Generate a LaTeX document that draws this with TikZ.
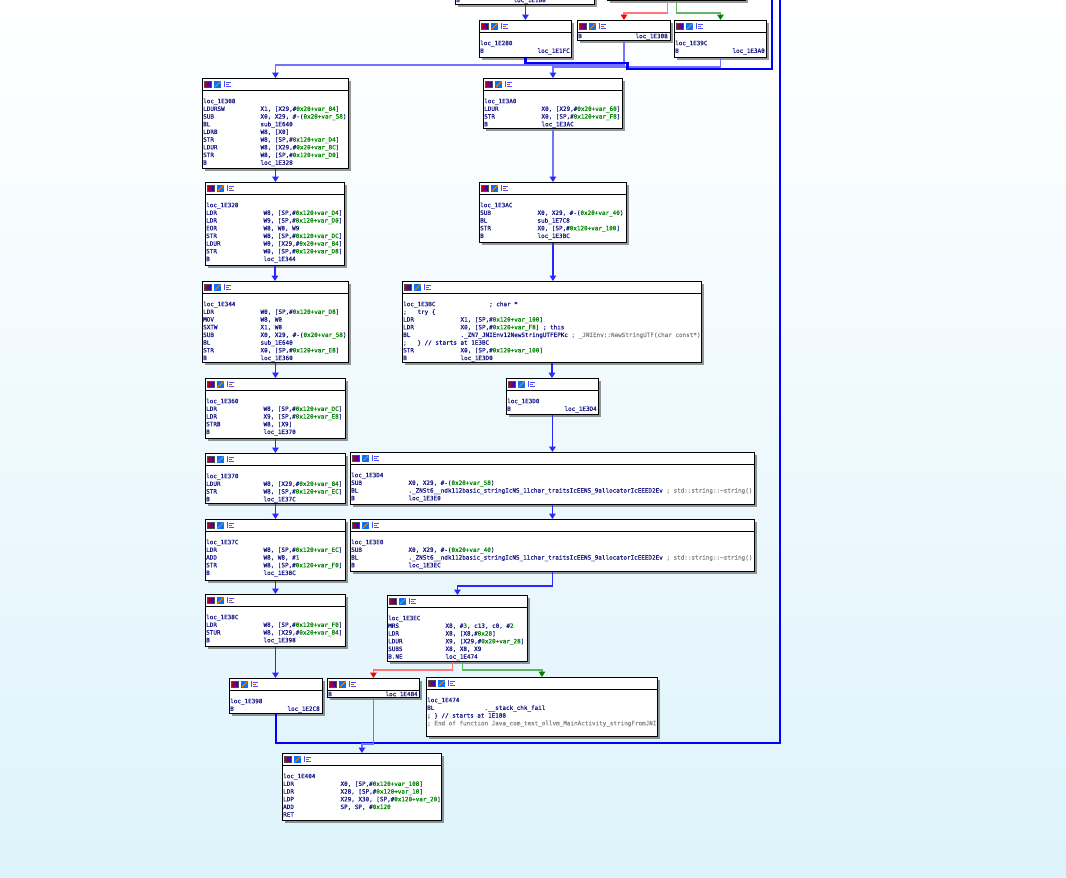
\documentclass[tikz,border=0pt]{standalone}
\usepackage{fontspec}
\setmonofont[FakeBold=0.5]{DejaVu Sans Mono}
\usetikzlibrary{arrows.meta,shadows}

\definecolor{idanavy}{RGB}{25,25,135}
\definecolor{idagreen}{RGB}{0,135,0}
\definecolor{idagray}{RGB}{135,135,135}
\definecolor{idabg}{RGB}{222,243,251}
\definecolor{flowblue}{RGB}{40,40,255}
\definecolor{paleblue}{RGB}{115,115,255}
\definecolor{palered}{RGB}{255,120,120}
\definecolor{palegreen}{RGB}{100,180,100}
\definecolor{darkgreen}{RGB}{0,130,0}

\newcommand\op[2]{\makebox[57.3pt][l]{#1}#2}
\newcommand\gn[1]{\textcolor{idagreen}{#1}}
\newcommand\cm[1]{\textcolor{idagray}{#1}}
\newcommand\idaicons[1]{%
  \begin{scope}[shift={(#1.north west)}]
    \shade[left color=red!80!black,middle color=yellow!70!green,right color=blue!80!violet] (2,3) rectangle (9,9.5);
    \draw[black!70,line width=.3pt] (2,3) rectangle (9,9.5);
    \fill[blue!55!cyan] (12,3) rectangle (19,9.5);
    \draw[orange,line width=1pt] (13,9) -- (18.5,3.5);
    \fill[white] (22,3) rectangle (29,9.5);
    \draw[blue!70,line width=.5pt] (22.3,3.3) -- (22.3,9.2) (23.5,4.5) -- (28.5,4.5) (23.5,6.3) -- (27,6.3) (23.5,8.1) -- (28.5,8.1);
    \fill[orange] (25,5.6) rectangle (26.2,7);
  \end{scope}}

\tikzset{
  blk/.style={rectangle,draw=black,line width=.9pt,fill=white,anchor=north west,inner sep=0pt,
    drop shadow={shadow xshift=2.5pt,shadow yshift=-2.5pt,opacity=.4,fill=black}},
  asm/.style={anchor=north west,inner sep=0pt,align=left,text=idanavy,
    font=\ttfamily\fontsize{5.95}{7.7}\selectfont},
  flow/.style={draw=flowblue,line width=1.6pt,-{Triangle[width=6.5pt,length=5.5pt,color=flowblue]}},
  paleflow/.style={draw=paleblue,line width=1.6pt,-{Triangle[width=6.5pt,length=5.5pt,color=flowblue]}},
  backflow/.style={draw=blue,line width=2.3pt},
  noflow/.style={draw=palered,line width=1.6pt,-{Triangle[width=6.5pt,length=5.5pt,color=red]}},
  yesflow/.style={draw=palegreen,line width=1.6pt,-{Triangle[width=6.5pt,length=5.5pt,color=darkgreen]}}
}

\begin{document}
\begin{tikzpicture}[x=1pt,y=-1pt]
\useasboundingbox (0,0) rectangle (1066,878);
\clip (0,0) rectangle (1066,878);
\shade[top color=white,bottom color=idabg] (0,0) rectangle (1066,878);

% blocks: name/x/y/width/height
\foreach \n/\x/\y/\w/\h in {T0/455/-40/139/44, T1/607/-40/138/40,
    B280/479/20/92/37, B308/577/20/93/20, B39C/674/20/92/37,
    L308/202/78/146/90, L328/205/182/139/83, L344/202/281/146/81,
    L360/205/378/140/60, L370/205/453/140/50, L37C/205/519/140/61,
    L38C/205/594/140/52, L398/229/678/93/35, L3FC/327/678/92/19,
    L404/282/753/159/67,
    R3A0/483/78/139/50, R3AC/479/182/147/60, R3BC/402/281/299/81,
    R3D0/506/378/92/36, R3D4/350/452/404/52, R3E0/350/519/404/52,
    R3EC/387/595/140/66, R474/426/677/231/59} {
  \node[blk,minimum width=\w,minimum height=\h] (\n) at (\x,\y) {};
  \draw[black,line width=.6pt] ([yshift=-12pt]\n.north west) -- ([yshift=-12pt]\n.north east);
  \idaicons{\n}
}

\coordinate (upQ) at (772,-5);
\coordinate (upR) at (780,-5);

% connectors
\draw[flow] (B280.north |- T0.south) -- (B280.north);
\draw[noflow] ([xshift=-9pt]T1.south) -- ++(0,12) -| (B308.north);
\draw[yesflow] (T1.south) -- ++(0,12) -| (B39C.north);
\draw[paleflow] (B308.south) -- ++(0,24) -| (L308.north);
\draw[paleflow] (B39C.south) -- ++(0,9) -| (R3A0.north);
\draw[backflow] (B280.south) -- ++(0,5) -- ++(102,0) -- ++(0,6) -| (upQ);

\draw[flow] (L308.south) -- (L308.south |- L328.north);
\draw[flow] (L328.south) -- (L328.south |- L344.north);
\draw[flow] (L344.south) -- (L344.south |- L360.north);
\draw[flow] (L360.south) -- (L360.south |- L370.north);
\draw[flow] (L370.south) -- (L370.south |- L37C.north);
\draw[flow] (L37C.south) -- (L37C.south |- L38C.north);
\draw[flow] (L38C.south) -- (L38C.south |- L398.north);
\draw[backflow] (L398.south) -- ++(0,29) -| (upR);
\draw[paleflow] (L3FC.south) -- ++(0,46) -| (L404.north);

\draw[paleflow] (R3A0.south) -- (R3A0.south |- R3AC.north);
\draw[flow] (R3AC.south) -- (R3AC.south |- R3BC.north);
\draw[flow] (R3BC.south) -- (R3BC.south |- R3D0.north);
\draw[flow] (R3D0.south) -- (R3D0.south |- R3D4.north);
\draw[flow] (R3D4.south) -- (R3D4.south |- R3E0.north);
\draw[flow] (R3E0.south) -- ++(0,14) -| (R3EC.north);
\draw[noflow] ([xshift=-5pt]R3EC.south) -- ++(0,8) -| (L3FC.north);
\draw[yesflow] ([xshift=5pt]R3EC.south) -- ++(0,8) -| (R474.north);

% code
\node[asm] (t1B0) at (456,-3.4) {\strut\op{B}{loc\_1E1B0}};
\node[asm] (t280) at ([shift={(1pt,-19.6pt)}]B280.north west) {\strut loc\_1E280\\\op{B}{loc\_1E1FC}};
\node[asm] (t308b) at ([shift={(1pt,-12.6pt)}]B308.north west) {\strut\op{B}{loc\_1E308}};
\node[asm] (t39C) at ([shift={(1pt,-19.6pt)}]B39C.north west) {\strut loc\_1E39C\\\op{B}{loc\_1E3A0}};

\node[asm] (t308) at ([shift={(1pt,-19.6pt)}]L308.north west) {\strut loc\_1E308\\
\op{LDURSW}{X1, [X29,\#\gn{0x20+var\_84}]}\\
\op{SUB}{X0, X29, \#-(\gn{0x20+var\_58})}\\
\op{BL}{sub\_1E640}\\
\op{LDRB}{W8, [X0]}\\
\op{STR}{W8, [SP,\#\gn{0x120+var\_D4}]}\\
\op{LDUR}{W8, [X29,\#\gn{0x20+var\_8C}]}\\
\op{STR}{W8, [SP,\#\gn{0x120+var\_D0}]}\\
\op{B}{loc\_1E328}};
\node[asm] (t328) at ([shift={(1pt,-19.6pt)}]L328.north west) {\strut loc\_1E328\\
\op{LDR}{W8, [SP,\#\gn{0x120+var\_D4}]}\\
\op{LDR}{W9, [SP,\#\gn{0x120+var\_D0}]}\\
\op{EOR}{W8, W8, W9}\\
\op{STR}{W8, [SP,\#\gn{0x120+var\_DC}]}\\
\op{LDUR}{W0, [X29,\#\gn{0x20+var\_84}]}\\
\op{STR}{W0, [SP,\#\gn{0x120+var\_D8}]}\\
\op{B}{loc\_1E344}};
\node[asm] (t344) at ([shift={(1pt,-19.6pt)}]L344.north west) {\strut loc\_1E344\\
\op{LDR}{W0, [SP,\#\gn{0x120+var\_D8}]}\\
\op{MOV}{W8, W0}\\
\op{SXTW}{X1, W8}\\
\op{SUB}{X0, X29, \#-(\gn{0x20+var\_58})}\\
\op{BL}{sub\_1E640}\\
\op{STR}{X0, [SP,\#\gn{0x120+var\_E8}]}\\
\op{B}{loc\_1E360}};
\node[asm] (t360) at ([shift={(1pt,-19.6pt)}]L360.north west) {\strut loc\_1E360\\
\op{LDR}{W8, [SP,\#\gn{0x120+var\_DC}]}\\
\op{LDR}{X9, [SP,\#\gn{0x120+var\_E8}]}\\
\op{STRB}{W8, [X9]}\\
\op{B}{loc\_1E370}};
\node[asm] (t370) at ([shift={(1pt,-19.6pt)}]L370.north west) {\strut loc\_1E370\\
\op{LDUR}{W8, [X29,\#\gn{0x20+var\_84}]}\\
\op{STR}{W8, [SP,\#\gn{0x120+var\_EC}]}\\
\op{B}{loc\_1E37C}};
\node[asm] (t37C) at ([shift={(1pt,-19.6pt)}]L37C.north west) {\strut loc\_1E37C\\
\op{LDR}{W8, [SP,\#\gn{0x120+var\_EC}]}\\
\op{ADD}{W8, W8, \#\gn{1}}\\
\op{STR}{W8, [SP,\#\gn{0x120+var\_F0}]}\\
\op{B}{loc\_1E38C}};
\node[asm] (t38C) at ([shift={(1pt,-19.6pt)}]L38C.north west) {\strut loc\_1E38C\\
\op{LDR}{W8, [SP,\#\gn{0x120+var\_F0}]}\\
\op{STUR}{W8, [X29,\#\gn{0x20+var\_84}]}\\
\op{B}{loc\_1E398}};
\node[asm] (t398) at ([shift={(1pt,-19.6pt)}]L398.north west) {\strut loc\_1E398\\\op{B}{loc\_1E2C8}};
\node[asm] (t3FC) at ([shift={(1pt,-12.6pt)}]L3FC.north west) {\strut\op{B}{loc\_1E404}};
\node[asm] (t404) at ([shift={(1pt,-19.6pt)}]L404.north west) {\strut loc\_1E404\\
\op{LDR}{X0, [SP,\#\gn{0x120+var\_108}]}\\
\op{LDR}{X28, [SP,\#\gn{0x120+var\_10}]}\\
\op{LDP}{X29, X30, [SP,\#\gn{0x120+var\_20}]}\\
\op{ADD}{SP, SP, \#\gn{0x120}}\\
\op{RET}{}};

\node[asm] (t3A0) at ([shift={(1pt,-19.6pt)}]R3A0.north west) {\strut loc\_1E3A0\\
\op{LDUR}{X0, [X29,\#\gn{0x20+var\_60}]}\\
\op{STR}{X0, [SP,\#\gn{0x120+var\_F8}]}\\
\op{B}{loc\_1E3AC}};
\node[asm] (t3AC) at ([shift={(1pt,-19.6pt)}]R3AC.north west) {\strut loc\_1E3AC\\
\op{SUB}{X0, X29, \#-(\gn{0x20+var\_40})}\\
\op{BL}{sub\_1E7C8}\\
\op{STR}{X0, [SP,\#\gn{0x120+var\_100}]}\\
\op{B}{loc\_1E3BC}};
\node[asm] (t3BC) at ([shift={(1pt,-19.6pt)}]R3BC.north west) {\strut\makebox[85.9pt][l]{loc\_1E3BC}; char *\\
\makebox[14.3pt][l]{;}try \{\\
\op{LDR}{X1, [SP,\#\gn{0x120+var\_100}]}\\
\op{LDR}{X0, [SP,\#\gn{0x120+var\_F8}] ; this}\\
\op{BL}{.\_ZN7\_JNIEnv12NewStringUTFEPKc \cm{; \_JNIEnv::NewStringUTF(char const*)}}\\
\makebox[14.3pt][l]{;}\} // starts at 1E3BC\\
\op{STR}{X0, [SP,\#\gn{0x120+var\_100}]}\\
\op{B}{loc\_1E3D0}};
\node[asm] (t3D0) at ([shift={(1pt,-19.6pt)}]R3D0.north west) {\strut loc\_1E3D0\\\op{B}{loc\_1E3D4}};
\node[asm] (t3D4) at ([shift={(1pt,-19.6pt)}]R3D4.north west) {\strut loc\_1E3D4\\
\op{SUB}{X0, X29, \#-(\gn{0x20+var\_58})}\\
\op{BL}{.\_ZNSt6\_\_ndk112basic\_stringIcNS\_11char\_traitsIcEENS\_9allocatorIcEEED2Ev \cm{; std::string::\textasciitilde string()}}\\
\op{B}{loc\_1E3E0}};
\node[asm] (t3E0) at ([shift={(1pt,-19.6pt)}]R3E0.north west) {\strut loc\_1E3E0\\
\op{SUB}{X0, X29, \#-(\gn{0x20+var\_40})}\\
\op{BL}{.\_ZNSt6\_\_ndk112basic\_stringIcNS\_11char\_traitsIcEENS\_9allocatorIcEEED2Ev \cm{; std::string::\textasciitilde string()}}\\
\op{B}{loc\_1E3EC}};
\node[asm] (t3EC) at ([shift={(1pt,-19.6pt)}]R3EC.north west) {\strut loc\_1E3EC\\
\op{MRS}{X8, \#\gn{3}, c13, c0, \#\gn{2}}\\
\op{LDR}{X8, [X8,\#\gn{0x28}]}\\
\op{LDUR}{X9, [X29,\#\gn{0x20+var\_28}]}\\
\op{SUBS}{X8, X8, X9}\\
\op{B.NE}{loc\_1E474}};
\node[asm] (t474) at ([shift={(1pt,-19.6pt)}]R474.north west) {\strut loc\_1E474\\
\op{BL}{.\_\_stack\_chk\_fail}\\
; \} // starts at 1E180\\
\cm{; End of function Java\_com\_test\_ollvm\_MainActivity\_stringFromJNI}};
\end{tikzpicture}
\end{document}
